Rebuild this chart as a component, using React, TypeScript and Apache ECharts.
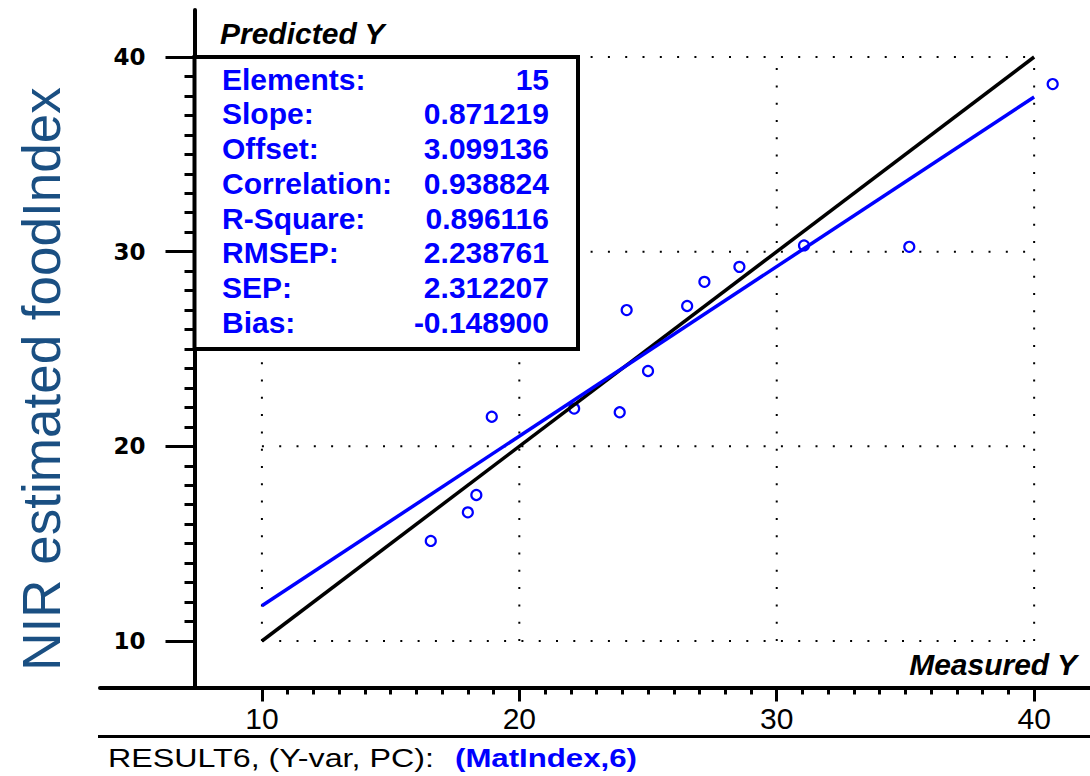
import React, { useEffect, useRef } from "react";
import * as echarts from "echarts";

// ---- data ----
const MEASURED = [16.56, 18.0, 18.33, 18.93, 22.13, 23.9, 24.17, 25.0, 26.52, 27.19, 28.55, 31.06, 35.15, 40.72];
const PREDICTED = [15.14, 16.61, 17.5, 21.52, 21.94, 21.75, 27.0, 23.87, 27.21, 28.45, 29.22, 30.32, 30.25, 38.61];
const SLOPE = 0.871219;
const OFFSET = 3.099136;
const LINE_RANGE = [10, 40];
const MAJOR_TICKS = [10, 20, 30, 40];
const MINOR_TICKS = [11, 12, 13, 14, 15, 16, 17, 18, 19, 21, 22, 23, 24, 25, 26, 27, 28, 29, 31, 32, 33, 34, 35, 36, 37, 38, 39];
const STAT_LABELS = ["Elements:", "Slope:", "Offset:", "Correlation:", "R-Square:", "RMSEP:", "SEP:", "Bias:"];
const STAT_VALUES = ["15", "0.871219", "3.099136", "0.938824", "0.896116", "2.238761", "2.312207", "-0.148900"];

const X_MIN = 3.71;
const X_MAX = 42.17;
const Y_MIN = 7.611;
const Y_MAX = 42.414;

export default function App() {
  const ref = useRef<HTMLDivElement>(null);
  useEffect(() => {
    if (!ref.current) return;
    const chart = echarts.init(ref.current, null, { renderer: "svg" });

    const dotted = { color: "#000", width: 2, type: [2, 15.3] as any };
    const gridSeries: any[] = [];
    MAJOR_TICKS.forEach((v) => {
      gridSeries.push({
        type: "line", data: [[v, LINE_RANGE[0]], [v, LINE_RANGE[1]]], symbol: "none",
        lineStyle: dotted, silent: true, z: 1, xAxisIndex: 0, yAxisIndex: 0,
      });
      gridSeries.push({
        type: "line", data: [[LINE_RANGE[0], v], [LINE_RANGE[1], v]], symbol: "none",
        lineStyle: dotted, silent: true, z: 1, xAxisIndex: 0, yAxisIndex: 0,
      });
    });

    const tickStyle = { color: "#000", width: 3 };
    const textFont = "Liberation Sans, Arial, sans-serif";

    const statTexts: any[] = [];
    STAT_LABELS.forEach((l, i) => {
      const y = 79 + i * 34.75;
      statTexts.push({
        type: "text", x: 222, y, z: 101,
        style: { text: l, fontSize: 30, fontWeight: "bold", fontFamily: textFont, fill: "#0000ff", align: "left", textAlign: "left", verticalAlign: "middle", textVerticalAlign: "middle" },
      });
      statTexts.push({
        type: "text", x: 549, y, z: 101,
        style: { text: STAT_VALUES[i], fontSize: 30, fontWeight: "bold", fontFamily: textFont, fill: "#0000ff", align: "right", textAlign: "right", verticalAlign: "middle", textVerticalAlign: "middle" },
      });
    });

    const option: any = {
      animation: false,
      backgroundColor: "#fff",
      grid: { left: 100, right: 0, top: 10, bottom: 88.5, containLabel: false },
      xAxis: [
        {
          type: "value", min: X_MIN, max: X_MAX, position: "bottom",
          axisLine: { show: true, onZero: false, lineStyle: { color: "#000", width: 4 } },
          axisTick: { show: true, customValues: MAJOR_TICKS, length: 14, lineStyle: tickStyle },
          axisLabel: { show: true, customValues: MAJOR_TICKS, fontSize: 30, fontFamily: textFont, color: "#000", margin: 16 },
          splitLine: { show: false },
        },
        {
          type: "value", min: X_MIN, max: X_MAX, position: "bottom",
          axisLine: { show: false, onZero: false },
          axisTick: { show: true, customValues: MINOR_TICKS, length: 7, lineStyle: tickStyle },
          axisLabel: { show: false },
          splitLine: { show: false },
        },
      ],
      yAxis: [
        {
          type: "value", min: Y_MIN, max: Y_MAX, position: "left", offset: -94.5,
          axisLine: { show: true, onZero: false, lineStyle: { color: "#000", width: 4 } },
          axisTick: { show: true, customValues: MAJOR_TICKS, length: 29, lineStyle: tickStyle },
          axisLabel: { show: true, customValues: MAJOR_TICKS, fontSize: 23, fontWeight: "bold", fontFamily: "DejaVu Sans, sans-serif", color: "#000", margin: 49 },
          splitLine: { show: false },
        },
        {
          type: "value", min: Y_MIN, max: Y_MAX, position: "left", offset: -94.5,
          axisLine: { show: false, onZero: false },
          axisTick: { show: true, customValues: MINOR_TICKS, length: 10, lineStyle: tickStyle },
          axisLabel: { show: false },
          splitLine: { show: false },
        },
      ],
      series: [
        ...gridSeries,
        {
          type: "scatter", data: MEASURED.map((m, i) => [m, PREDICTED[i]]),
          symbol: "circle", symbolSize: 10, z: 2,
          itemStyle: { color: "rgba(255,255,255,0)", borderColor: "#0000ff", borderWidth: 2.2, opacity: 1 },
        },
        {
          type: "line", data: LINE_RANGE.map((v) => [v, v]), symbol: "none", z: 3,
          lineStyle: { color: "#000", width: 3.5 },
        },
        {
          type: "line", data: LINE_RANGE.map((v) => [v, OFFSET + SLOPE * v]), symbol: "none", z: 4,
          lineStyle: { color: "#0000ff", width: 3.5 },
        },
      ],
      graphic: [
        {
          type: "rect", z: 100,
          shape: { x: 194.5, y: 57, width: 383.5, height: 292 },
          style: { fill: "#fff", stroke: "#000", lineWidth: 4 },
        },
        ...statTexts,
        {
          type: "text", x: 220, y: 33, z: 101,
          style: { text: "Predicted Y", fontSize: 30, fontWeight: "bold", fontStyle: "italic", fontFamily: textFont, fill: "#000", align: "left", textAlign: "left", verticalAlign: "middle", textVerticalAlign: "middle" },
        },
        {
          type: "text", x: 1077, y: 664, z: 101,
          style: { text: "Measured Y", fontSize: 30, fontWeight: "bold", fontStyle: "italic", fontFamily: textFont, fill: "#000", align: "right", textAlign: "right", verticalAlign: "middle", textVerticalAlign: "middle" },
        },
        {
          type: "line", z: 101,
          shape: { x1: 98, y1: 736.5, x2: 1090, y2: 736.5 },
          style: { stroke: "#000", lineWidth: 3 },
        },
        {
          type: "text", x: 108, y: 758, scaleX: 1.24, z: 101,
          style: { text: "RESULT6, (Y-var, PC):", fontSize: 26, fontFamily: textFont, fill: "#000", align: "left", textAlign: "left", verticalAlign: "middle", textVerticalAlign: "middle" },
        },
        {
          type: "text", x: 455, y: 758, scaleX: 1.2, z: 101,
          style: { text: "(MatIndex,6)", fontSize: 26, fontWeight: "bold", fontFamily: textFont, fill: "#0000ff", align: "left", textAlign: "left", verticalAlign: "middle", textVerticalAlign: "middle" },
        },
        {
          type: "text", x: 41, y: 379, rotation: Math.PI / 2, z: 101,
          style: { text: "NIR estimated foodIndex", fontSize: 53, fontFamily: textFont, fill: "#1a4f82", align: "center", textAlign: "center", verticalAlign: "middle", textVerticalAlign: "middle" },
        },
      ],
    };
    chart.setOption(option);
    return () => chart.dispose();
  }, []);
  return <div ref={ref} style={{ position: "fixed", left: 0, top: 0, width: 1090, height: 776 }} />;
}
